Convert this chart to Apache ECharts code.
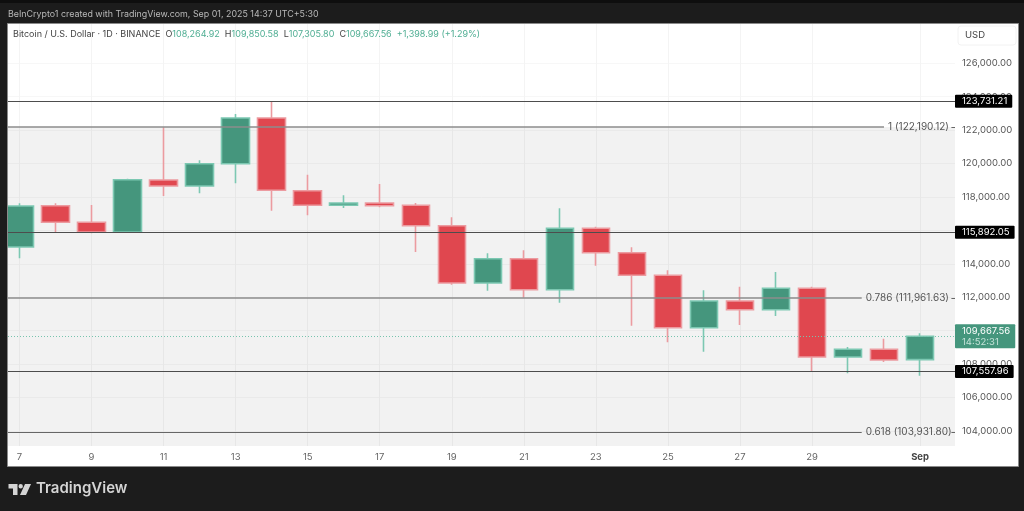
<!DOCTYPE html>
<html>
<head>
<meta charset="utf-8">
<style>
  html, body { margin: 0; padding: 0; background: #1c1c1c; }
  #chart { width: 1024px; height: 511px; }
</style>
<script src="https://cdn.jsdelivr.net/npm/echarts@6/dist/echarts.min.js"></script>
</head>
<body>
<div id="chart"></div>
<script>
// daily candles, Aug 7 to Sep 1
const opens  = [115007, 117478, 116485, 115904, 119016, 118657, 119992, 122727, 118376, 117503, 117640, 117503, 116282, 112853, 114307, 112452, 116126, 114666, 113314, 110178, 111776, 111255, 112536, 108425, 108886, 108264.92];
const closes = [117460, 116485, 115904, 119034, 118657, 119992, 122727, 118400, 117503, 117640, 117479, 116282, 112853, 114307, 112452, 116126, 114666, 113314, 110178, 111776, 111255, 112536, 108425, 108886, 108245, 109667.56];
const lows   = [114330, 115886, 115826, 115890, 118059, 118220, 118819, 117179, 116904, 117341, 117383, 114708, 112752, 112392, 111974, 111674, 113888, 110298, 109305, 108742, 110340, 110878, 107545, 107450, 108126, 107305.8];
const highs  = [117622, 117622, 117520, 119094, 122170, 120195, 122966, 123731, 119334, 118101, 118777, 117640, 116785, 114630, 114810, 117323, 116222, 114989, 113613, 112416, 112632, 113511, 112632, 109023, 109520, 109850.58];

const xTicks = [0, 2, 4, 6, 8, 10, 12, 14, 16, 18, 20, 22, 25];
const xLabels = ['7', '9', '11', '13', '15', '17', '19', '21', '23', '25', '27', '29', 'Sep'];
const yTicks = [104000, 106000, 108000, 110000, 112000, 114000, 116000, 118000, 120000, 122000, 124000, 126000];

const plainLevels = [123731.21, 115892.05, 107557.96];
const fibLevels = [122190.12, 111961.63, 103931.8];
const fibNames = ['1', '0.786', '0.618'];
const lastPrice = 109667.56;
const countdown = '14:52:31';

const FONT = 'Inter';
const GREEN = '#45967d', GREEN_WICK = '#7cc8b2';
const RED = '#e0474f', RED_WICK = '#ec9ba0';
const xMin = -0.32, xMax = 25.97, yMin = 103098, yMax = 128382;
const fmt = v => v.toLocaleString('en-US', { minimumFractionDigits: 2, maximumFractionDigits: 2 });

let candles = opens.map((o, i) => [i, o, closes[i], lows[i], highs[i]]);

let lineData = [];
plainLevels.forEach(v => {
    lineData.push({
        yAxis: v,
        lineStyle: { color: '#4d4d4d', width: 1.2, type: 'solid' },
        label: {
            show: true, position: 'end', distance: 0, formatter: fmt(v), color: '#fff',
            backgroundColor: '#000', padding: [2, 5, 1, 7], borderRadius: 1,
            fontFamily: FONT, fontSize: 9.5
        }
    });
});
// fib lines stop before their label, then a short stub reaches the scale
const fibEnds = [24.0, 23.38, 23.38];
fibLevels.forEach((v, i) => {
    let style = i === 2 ? { color: '#666', width: 1.2, type: 'solid' } : { color: '#8c8c8c', width: 1.6, type: 'solid' };
    lineData.push([
        { coord: [xMin, v], lineStyle: style },
        {
            coord: [fibEnds[i], v],
            label: {
                show: true, position: 'end', distance: 4,
                formatter: fibNames[i] + ' (' + fmt(v) + ')',
                color: '#555', fontFamily: FONT, fontSize: 10
            }
        }
    ]);
    lineData.push([
        { coord: [25.87, v], lineStyle: { color: '#666', width: 1, type: 'solid' }, label: { show: false } },
        { coord: [xMax, v] }
    ]);
});
lineData.push({
    yAxis: lastPrice,
    lineStyle: { color: '#78c4ae', width: 1, type: [1, 2] },
    label: {
        show: true, position: 'end', distance: 0,
        formatter: '{a|' + fmt(lastPrice) + '}\n{b|' + countdown + '}',
        backgroundColor: GREEN, padding: [1, 5, 1, 7], borderRadius: 1,
        rich: {
            a: { color: '#fff', fontFamily: FONT, fontSize: 9.5, lineHeight: 11 },
            b: { color: '#c4e2d8', fontFamily: FONT, fontSize: 9.5, lineHeight: 11 }
        }
    }
});

let option = {
    animation: false,
    backgroundColor: '#1c1c1c',
    textStyle: { fontFamily: FONT },
    title: [
        {
            text: 'BeInCrypto1 created with TradingView.com, Sep 01, 2025 14:37 UTC+5:30',
            left: 8, top: 10, padding: 0,
            textStyle: { color: '#b9b9b9', fontSize: 8.9, fontWeight: 'normal', fontFamily: FONT }
        },
        {
            text: '{k|Bitcoin / U.S. Dollar · 1D · BINANCE  O}{g|108,264.92}{k|  H}{g|109,850.58}{k|  L}{g|107,305.80}{k|  C}{g|109,667.56}{g|  +1,398.99 (+1.29%)}',
            left: 13, top: 30, padding: 0,
            textStyle: {
                fontWeight: 'normal',
                rich: {
                    k: { color: '#444', fontSize: 9, fontFamily: FONT },
                    g: { color: '#4fae93', fontSize: 9, fontFamily: FONT }
                }
            }
        }
    ],
    graphic: [
        { type: 'rect', z: -1, shape: { x: 0, y: 0, width: 1024, height: 3 }, style: { fill: '#0e0e0e' } },
        { type: 'rect', z: -1, shape: { x: 7.5, y: 23.5, width: 1011, height: 443 }, style: { fill: '#fff' } },
        // the first candle is cut by the panel edge
        { type: 'rect', z: 10, shape: { x: 0, y: 23, width: 7, height: 444 }, style: { fill: '#1c1c1c' } },
        { type: 'rect', z: 10, shape: { x: 7.5, y: 23.5, width: 1011, height: 443 }, style: { fill: 'none', stroke: '#8a8a8a', lineWidth: 1 } },
        { type: 'rect', z: 5, shape: { x: 958, y: 26, width: 58, height: 19, r: 3 }, style: { fill: '#fff', stroke: '#f2f2f2' } },
        { type: 'text', z: 6, style: { x: 965, y: 30, text: 'USD', fill: '#444', font: '9.5px ' + FONT } },
        // TradingView logo
        { type: 'polygon', shape: { points: [[8.5, 484], [17.5, 484], [17.5, 495], [13, 495], [13, 488.5], [8.5, 488.5]] }, style: { fill: '#d4d4d4' } },
        { type: 'circle', shape: { cx: 20.7, cy: 486.2, r: 2.2 }, style: { fill: '#d4d4d4' } },
        { type: 'polygon', shape: { points: [[25, 484], [31, 484], [26, 495], [20, 495]] }, style: { fill: '#d4d4d4' } },
        { type: 'text', style: { x: 36, y: 481, text: 'TradingView', fill: '#d4d4d4', font: '600 15px ' + FONT } }
    ],
    grid: { left: 8, top: 23.5, width: 947, height: 422.5 },
    xAxis: {
        type: 'value', min: xMin, max: xMax,
        axisLine: { show: false },
        axisTick: { show: false, customValues: xTicks },
        splitLine: { show: true, lineStyle: { color: '#f4f4f4', width: 1 } },
        axisLabel: {
            customValues: xTicks, margin: 6, color: '#666', fontFamily: FONT, fontSize: 9.5,
            formatter: v => {
                let s = xLabels[xTicks.indexOf(v)];
                return s === 'Sep' ? '{b|Sep}' : s;
            },
            rich: { b: { color: '#444', fontWeight: 'bold', fontFamily: FONT, fontSize: 9.5 } }
        }
    },
    yAxis: {
        type: 'value', position: 'right', min: yMin, max: yMax,
        axisLine: { show: false },
        axisTick: { show: false, customValues: yTicks },
        splitLine: { show: true, lineStyle: { color: '#f7f7f7', width: 1 } },
        axisLabel: {
            customValues: yTicks, margin: 7, color: '#555', fontFamily: FONT, fontSize: 9.5,
            formatter: v => fmt(v)
        }
    },
    series: [
        {
            type: 'line', z: 1, data: [], silent: true, symbol: 'none',
            markArea: {
                silent: true,
                itemStyle: { color: 'rgba(0,0,0,0.052)' },
                data: [[{ yAxis: fibLevels[0] }, { yAxis: yMin }]]
            },
            markLine: { silent: true, symbol: 'none', animation: false, data: lineData }
        },
        {
            type: 'candlestick', z: 3, barWidth: 28,
            encode: { x: 0, y: [1, 2, 3, 4] },
            itemStyle: {
                color: GREEN, color0: RED,
                borderColor: GREEN_WICK, borderColor0: RED_WICK, borderWidth: 1.6
            },
            data: candles
        }
    ]
};

let myChart = echarts.init(document.getElementById('chart'));
myChart.setOption(option);
</script>
</body>
</html>
